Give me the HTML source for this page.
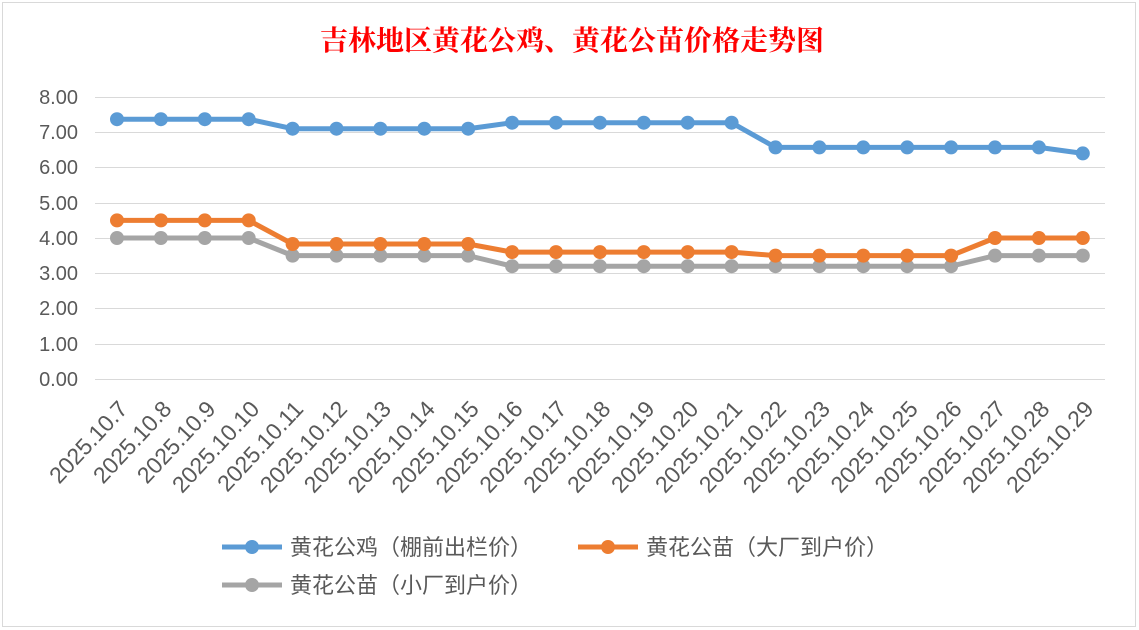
<!DOCTYPE html>
<html><head><meta charset="utf-8"><style>
html,body{margin:0;padding:0;background:#fff;}
svg{display:block;}
</style></head><body>
<svg width="1139" height="630" xmlns="http://www.w3.org/2000/svg" font-family="'Liberation Sans','Noto Sans CJK SC',sans-serif">
<rect x="0" y="0" width="1139" height="630" fill="#fff"/>
<rect x="2.5" y="2.5" width="1133" height="624" fill="#fff" stroke="#d9d9d9"/>
<text x="572" y="50" text-anchor="middle" font-size="28" font-weight="bold" fill="#ff0000" font-family="'Liberation Serif','Noto Serif CJK SC',serif">吉林地区黄花公鸡、黄花公苗价格走势图</text>
<g stroke="#d9d9d9" stroke-width="1">
<line x1="95" x2="1105" y1="97.5" y2="97.5"/>
<line x1="95" x2="1105" y1="132.5" y2="132.5"/>
<line x1="95" x2="1105" y1="167.5" y2="167.5"/>
<line x1="95" x2="1105" y1="203.5" y2="203.5"/>
<line x1="95" x2="1105" y1="238.5" y2="238.5"/>
<line x1="95" x2="1105" y1="273.5" y2="273.5"/>
<line x1="95" x2="1105" y1="308.5" y2="308.5"/>
<line x1="95" x2="1105" y1="344.5" y2="344.5"/>
<line x1="95" x2="1105" y1="379.5" y2="379.5"/>
</g>
<g font-size="20" fill="#595959" text-anchor="end">
<text x="78" y="104">8.00</text><text x="78" y="139">7.00</text><text x="78" y="174">6.00</text>
<text x="78" y="210">5.00</text><text x="78" y="245">4.00</text><text x="78" y="280">3.00</text>
<text x="78" y="315">2.00</text><text x="78" y="351">1.00</text><text x="78" y="386">0.00</text>
</g>
<g id="xl" font-size="23" fill="#595959" text-anchor="end"></g>
<g id="series"></g>
<g font-size="22" fill="#595959" font-family="'Liberation Sans','Noto Sans CJK SC',sans-serif">
<line x1="222" x2="282" y1="547" y2="547" stroke="#5b9bd5" stroke-width="5"/><circle cx="252" cy="547" r="7" fill="#5b9bd5"/>
<text x="290" y="555">黄花公鸡（棚前出栏价）</text>
<line x1="578" x2="638" y1="547" y2="547" stroke="#ed7d31" stroke-width="5"/><circle cx="608" cy="547" r="7" fill="#ed7d31"/>
<text x="646" y="555">黄花公苗（大厂到户价）</text>
<line x1="222" x2="282" y1="585" y2="585" stroke="#a5a5a5" stroke-width="5"/><circle cx="252" cy="585" r="7" fill="#a5a5a5"/>
<text x="290" y="593">黄花公苗（小厂到户价）</text>
</g>
</svg>
<script>
var ns="http://www.w3.org/2000/svg";
var labels=[];for(var d=7;d<=29;d++){labels.push("2025.10."+d);}
function X(i){return 117+i*43.9;}function Y(v){return 379-v*35.25;}
var xl=document.getElementById("xl");
labels.forEach(function(l,i){var t=document.createElementNS(ns,"text");var x=X(i)+12,y=410;
t.setAttribute("x",x);t.setAttribute("y",y);t.setAttribute("transform","rotate(-47 "+x+" "+y+")");t.textContent=l;xl.appendChild(t);});
function rep(a){var r=[];a.forEach(function(p){for(var k=0;k<p[1];k++)r.push(p[0]);});return r;}
var S=[["#a5a5a5",rep([[4,4],[3.5,5],[3.2,11],[3.5,3]])],
["#ed7d31",rep([[4.5,4],[3.83,5],[3.6,6],[3.5,5],[4,3]])],
["#5b9bd5",rep([[7.37,4],[7.1,5],[7.27,6],[6.57,7],[6.4,1]])]];
var g=document.getElementById("series");
S.forEach(function(s){var pts=s[1].map(function(v,i){return X(i)+","+Y(v);}).join(" ");
var pl=document.createElementNS(ns,"polyline");pl.setAttribute("points",pts);pl.setAttribute("fill","none");pl.setAttribute("stroke",s[0]);pl.setAttribute("stroke-width","5");pl.setAttribute("stroke-linejoin","round");g.appendChild(pl);
s[1].forEach(function(v,i){var c=document.createElementNS(ns,"circle");c.setAttribute("cx",X(i));c.setAttribute("cy",Y(v));c.setAttribute("r","7");c.setAttribute("fill",s[0]);g.appendChild(c);});});
</script>
</body></html>
